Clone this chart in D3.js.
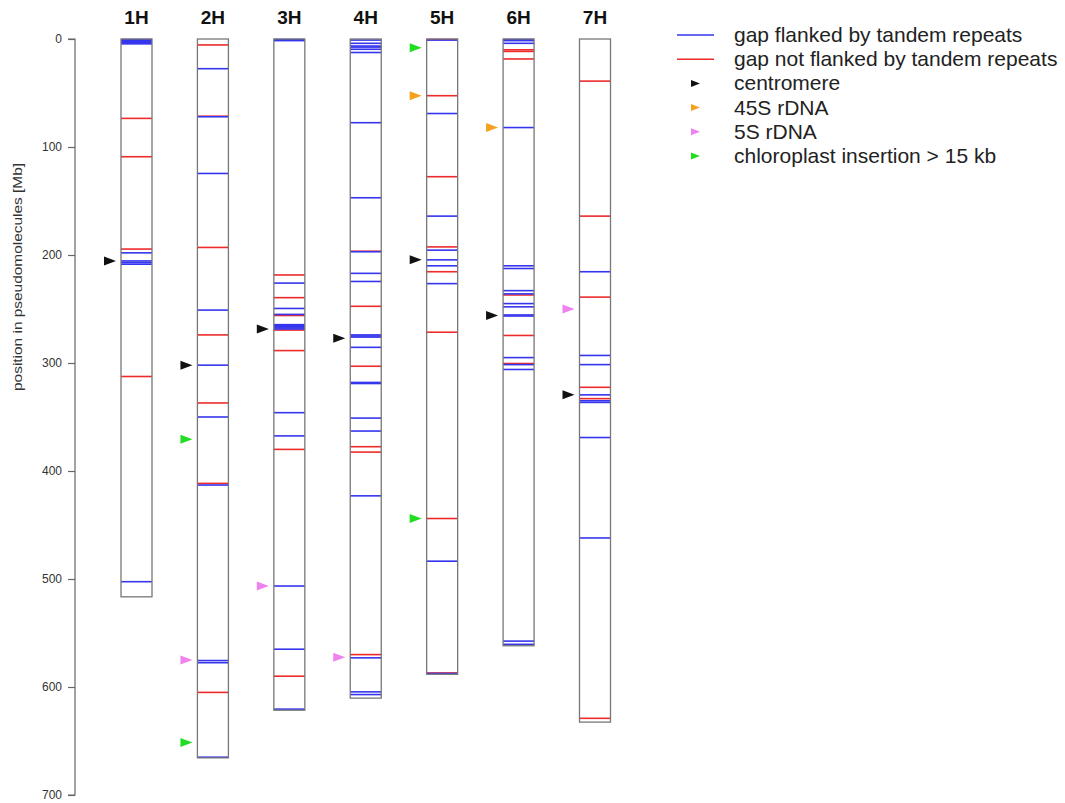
<!DOCTYPE html>
<html>
<head>
<meta charset="utf-8">
<script src="https://cdn.jsdelivr.net/npm/d3@7"></script>
<style>
  html, body { margin: 0; padding: 0; background: #fff; }
  svg { display: block; font-family: "Liberation Sans", Arial, Helvetica, sans-serif; }
</style>
</head>
<body>
<svg id="chart" width="1065" height="803"></svg>
<script>
// Barley pseudomolecules (Mb) with assembly gaps and landmarks
const chromosomes = ["1H", "2H", "3H", "4H", "5H", "6H", "7H"];
const lengths = [516.5, 665.6, 621.5, 610.3, 588.2, 561.8, 632.5];

// gaps flanked by tandem repeats (Mb)
const gapsTandem = [
  [0.5, 1.5, 2.5, 3.5, 4.5, 198, 205.5, 207, 208.5, 502.5],
  [27.5, 72, 124.5, 251, 302, 350, 413, 575.5, 577.5, 665],
  [0.5, 1.5, 226, 249.5, 255, 264.5, 265.5, 266.5, 267.5, 268.5, 346, 367.5, 506.5, 565, 620.5],
  [1, 4, 6.5, 7.5, 9.5, 12.5, 77.5, 147, 197, 217, 224.5, 274, 275, 276, 285.5, 318, 319, 351, 363, 423, 573, 604.5, 607],
  [1, 69, 164, 195.5, 204.5, 210, 226.5, 483.5, 587.5],
  [0.5, 1.5, 4, 82, 210, 212.5, 233, 236, 245, 248, 255.5, 256.5, 295, 301.5, 306, 557.5, 560.5],
  [215.5, 293, 301.5, 329.5, 335, 336.5, 369, 462]
];

// gaps not flanked by tandem repeats (Mb)
const gapsOther = [
  [73.5, 109, 194.5, 312.5],
  [5.5, 71.5, 193, 274, 337, 411.5, 605],
  [218.5, 239.5, 256, 269.5, 288.5, 380, 590],
  [196.5, 247.5, 303, 377.5, 382.5, 570],
  [0.5, 52.5, 127.5, 192.5, 215.5, 271.5, 444, 587],
  [10, 11.5, 18.5, 237, 274.5, 300.5],
  [39, 164, 239, 322.5, 333, 629]
];

// landmarks: [chromosome, position Mb]
const centromeres = [["1H", 205.5], ["2H", 302], ["3H", 268.5], ["4H", 277], ["5H", 204.5], ["6H", 256], ["7H", 329.5]];
const rDNA45S = [["5H", 52.5], ["6H", 82]];
const rDNA5S = [["2H", 575], ["3H", 506.5], ["4H", 572.5], ["7H", 250]];
const chloroplast = [["2H", 370.5], ["2H", 651.5], ["5H", 8], ["5H", 444]];

const yTicks = [0, 100, 200, 300, 400, 500, 600, 700];

const legendItems = [
  { label: "gap flanked by tandem repeats", kind: "line", color: "#3535ee" },
  { label: "gap not flanked by tandem repeats", kind: "line", color: "#ee2a2a" },
  { label: "centromere", kind: "arrow", color: "#111111" },
  { label: "45S rDNA", kind: "arrow", color: "#f5a11f" },
  { label: "5S rDNA", kind: "arrow", color: "#ee82ee" },
  { label: "chloroplast insertion > 15 kb", kind: "arrow", color: "#22dd22" }
];

const colors = {
  tandem: "#3535ee",
  other: "#ee2a2a",
  centromere: "#111111",
  r45: "#f5a11f",
  r5: "#ee82ee",
  cp: "#22dd22"
};

const svg = d3.select("#chart");

const y = d3.scaleLinear().domain([0, 700]).range([39, 795]);
const x = d3.scalePoint().domain(chromosomes).range([136.5, 595]);
const boxW = 31;

// y axis
const axis = svg.append("g")
  .attr("transform", "translate(75,0)")
  .call(d3.axisLeft(y).tickValues(yTicks).tickSize(7).tickPadding(6).tickFormat(d3.format("d")));
axis.select(".domain").attr("stroke", "#666").attr("stroke-width", 1.2).attr("d", `M-7,${y(0)}H0V${y(700)}H-7`);
axis.selectAll(".tick line").attr("stroke", "#666").attr("stroke-width", 1.2);
axis.selectAll(".tick text").attr("fill", "#333").style("font-size", "12px");

svg.append("text")
  .attr("transform", `translate(22,277) rotate(-90)`)
  .attr("text-anchor", "middle")
  .attr("fill", "#333")
  .attr("textLength", 228)
  .attr("lengthAdjust", "spacingAndGlyphs")
  .style("font-size", "12px")
  .text("position in pseudomolecules [Mb]");

// chromosome titles
svg.selectAll("text.chrom")
  .data(chromosomes)
  .enter().append("text")
  .attr("class", "chrom")
  .attr("x", d => x(d))
  .attr("y", 24)
  .attr("text-anchor", "middle")
  .attr("font-weight", "bold")
  .attr("fill", "#111")
  .style("font-size", "19px")
  .text(d => d);

// gap lines
function drawGaps(sets, color) {
  sets.forEach((vals, i) => {
    const cx = x(chromosomes[i]);
    svg.append("g").selectAll("line")
      .data(vals)
      .enter().append("line")
      .attr("x1", cx - boxW / 2)
      .attr("x2", cx + boxW / 2)
      .attr("y1", d => y(d))
      .attr("y2", d => y(d))
      .attr("stroke", color)
      .attr("stroke-width", 1.6);
  });
}
drawGaps(gapsOther, colors.other);
drawGaps(gapsTandem, colors.tandem);

// chromosome outlines
svg.selectAll("rect.chr")
  .data(chromosomes)
  .enter().append("rect")
  .attr("class", "chr")
  .attr("x", d => x(d) - boxW / 2)
  .attr("y", y(0))
  .attr("width", boxW)
  .attr("height", (d, i) => y(lengths[i]) - y(0))
  .attr("fill", "none")
  .attr("stroke", "#777")
  .attr("stroke-width", 1.3);

// landmark arrows pointing right, to the left of each chromosome
function drawArrows(list, color) {
  svg.append("g").selectAll("path")
    .data(list)
    .enter().append("path")
    .attr("d", d => {
      const tip = x(d[0]) - boxW / 2 - 5;
      const yy = y(d[1]);
      return `M${tip},${yy}L${tip - 12},${yy - 4.5}L${tip - 12},${yy + 4.5}Z`;
    })
    .attr("fill", color);
}
drawArrows(centromeres, colors.centromere);
drawArrows(rDNA45S, colors.r45);
drawArrows(rDNA5S, colors.r5);
drawArrows(chloroplast, colors.cp);

// legend
const legend = svg.append("g").attr("transform", "translate(677,35)");
const rows = legend.selectAll("g")
  .data(legendItems)
  .enter().append("g")
  .attr("transform", (d, i) => `translate(0,${i * 24.2})`);
rows.filter(d => d.kind === "line").append("line")
  .attr("x1", 0).attr("x2", 37).attr("y1", 0).attr("y2", 0)
  .attr("stroke", d => d.color).attr("stroke-width", 1.5);
rows.filter(d => d.kind === "arrow").append("path")
  .attr("d", "M23,0L14,-3.5L14,3.5Z")
  .attr("fill", d => d.color);
rows.append("text")
  .attr("x", 57)
  .attr("y", 7)
  .attr("fill", "#222")
  .style("font-size", "21px")
  .text(d => d.label);
</script>
</body>
</html>
